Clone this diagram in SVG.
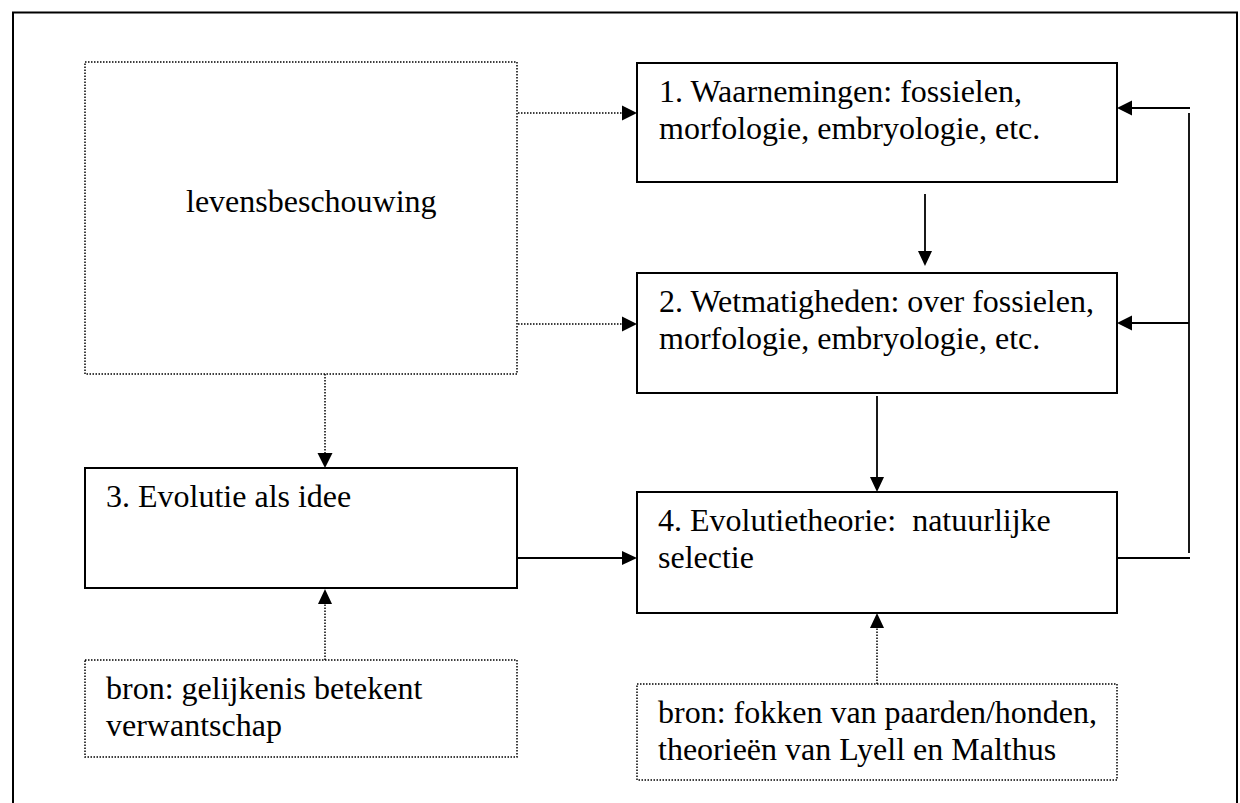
<svg xmlns="http://www.w3.org/2000/svg" width="1240" height="803" viewBox="0 0 1240 803">
<style>
  .box { fill: #fff; stroke: #000; stroke-width: 2; }
  .dbox { fill: #fff; stroke: #000; stroke-width: 1.5; stroke-dasharray: 1.5 1.5; }
  .ln { fill: none; stroke: #000; stroke-width: 1.8; }
  .dln { fill: none; stroke: #000; stroke-width: 1.5; stroke-dasharray: 1.5 1.5; }
  .head { fill: #000; stroke: none; }
  .t { font-family: 'Liberation Serif', serif; font-size: 32px; fill: #000; white-space: pre; }
</style>
<rect width="1240" height="803" fill="#fff"/>
<path d="M13,803 V12.5 H1237 V803" fill="none" stroke="#000" stroke-width="2"/>

<g id="connectors">
  <line class="dln" x1="518" y1="113" x2="623" y2="113"/>
  <polygon class="head" points="637,113 622,105.5 622,120.5"/>
  <line class="dln" x1="518" y1="324" x2="623" y2="324"/>
  <polygon class="head" points="637,324 622,316.5 622,331.5"/>
  <line class="dln" x1="325" y1="374" x2="325" y2="454"/>
  <polygon class="head" points="325,468 317.5,453 332.5,453"/>
  <line class="ln" x1="925" y1="194" x2="925" y2="252"/>
  <polygon class="head" points="925,266 918,251 932,251"/>
  <line class="ln" x1="877" y1="396" x2="877" y2="478"/>
  <polygon class="head" points="877,492 870,477 884,477"/>
  <line class="ln" x1="517" y1="558" x2="623" y2="558"/>
  <polygon class="head" points="637,558 622,551 622,565"/>
  <line class="ln" x1="1117" y1="558" x2="1190" y2="558"/>
  <line class="ln" x1="1189" y1="113" x2="1189" y2="553"/>
  <line class="ln" x1="1131" y1="108" x2="1190" y2="108"/>
  <polygon class="head" points="1117,108 1132,100.5 1132,115.5"/>
  <line class="ln" x1="1131" y1="323" x2="1189" y2="323"/>
  <polygon class="head" points="1117,323 1132,315.5 1132,330.5"/>
  <line class="dln" x1="325" y1="660" x2="325" y2="603"/>
  <polygon class="head" points="325,589 318,604 332,604"/>
  <line class="dln" x1="877" y1="684" x2="877" y2="627"/>
  <polygon class="head" points="877,613 870,628 884,628"/>
</g>

<g id="node-levensbeschouwing">
  <rect class="dbox" x="85" y="62" width="432" height="312"/>
  <text class="t" font-family="Liberation Serif" x="186" y="212">levensbeschouwing</text>
</g>
<g id="node-1">
  <rect class="box" x="637" y="63" width="480" height="119"/>
  <text class="t" font-family="Liberation Serif" x="659" y="102">1. Waarnemingen: fossielen,</text>
  <text class="t" font-family="Liberation Serif" x="659" y="139">morfologie, embryologie, etc.</text>
</g>
<g id="node-2">
  <rect class="box" x="637" y="273" width="480" height="120"/>
  <text class="t" font-family="Liberation Serif" x="659" y="312">2. Wetmatigheden: over fossielen,</text>
  <text class="t" font-family="Liberation Serif" x="659" y="349">morfologie, embryologie, etc.</text>
</g>
<g id="node-3">
  <rect class="box" x="85" y="468" width="432" height="120"/>
  <text class="t" font-family="Liberation Serif" x="106" y="507">3. Evolutie als idee</text>
</g>
<g id="node-4">
  <rect class="box" x="637" y="492" width="480" height="121"/>
  <text class="t" font-family="Liberation Serif" x="658" y="531" xml:space="preserve">4. Evolutietheorie:  natuurlijke</text>
  <text class="t" font-family="Liberation Serif" x="658" y="568">selectie</text>
</g>
<g id="node-bron1">
  <rect class="dbox" x="85" y="660" width="432" height="97"/>
  <text class="t" font-family="Liberation Serif" x="106" y="699">bron: gelijkenis betekent</text>
  <text class="t" font-family="Liberation Serif" x="106" y="736">verwantschap</text>
</g>
<g id="node-bron2">
  <rect class="dbox" x="637" y="684" width="480" height="96"/>
  <text class="t" font-family="Liberation Serif" x="658" y="723">bron: fokken van paarden/honden,</text>
  <text class="t" font-family="Liberation Serif" x="658" y="760">theorieën van Lyell en Malthus</text>
</g>
</svg>
